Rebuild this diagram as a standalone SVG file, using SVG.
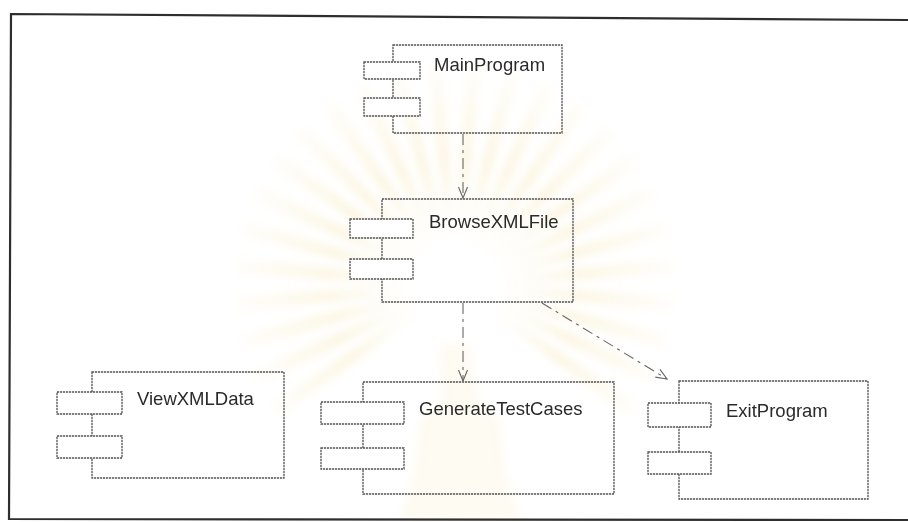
<svg xmlns="http://www.w3.org/2000/svg" xmlns:xlink="http://www.w3.org/1999/xlink" width="908" height="522" viewBox="0 0 908 522">
  <defs>
    <style>
      .frame { fill: none; stroke: #2e2e2e; stroke-width: 2.2; }
      .box { fill: #ffffff; stroke: #555555; stroke-width: 1.3; stroke-dasharray: 2.2 0.8; }
      .body { fill: none; stroke: #555555; stroke-width: 1.3; stroke-dasharray: 2.2 0.8; }
      .label { font-family: "Liberation Sans", Arial, sans-serif; font-size: 18.5px; fill: #2a2a2a; }
      .dep { fill: none; stroke: #666666; stroke-width: 1.1; stroke-dasharray: 11 5 3 5; }
      .head { fill: none; stroke: #666666; stroke-width: 1.1; }
    </style>
    <marker id="open-arrow" markerUnits="userSpaceOnUse" markerWidth="14" markerHeight="12" viewBox="-12 -6 14 12" refX="0" refY="0" orient="auto">
      <path class="head" d="M -11 -4.5 L 0 0 L -11 4.5"/>
    </marker>
    <linearGradient id="ray-fill" x1="0" y1="1" x2="0" y2="0">
      <stop offset="0" stop-color="#f6e7b4" stop-opacity="0.1"/>
      <stop offset="0.45" stop-color="#f3d98c" stop-opacity="0.7"/>
      <stop offset="1" stop-color="#f5e2a6" stop-opacity="0.15"/>
    </linearGradient>
    <radialGradient id="glow" cx="0.5" cy="0.5" r="0.5">
      <stop offset="0" stop-color="#ffffff" stop-opacity="1"/>
      <stop offset="0.7" stop-color="#ffffff" stop-opacity="0.9"/>
      <stop offset="1" stop-color="#ffffff" stop-opacity="0"/>
    </radialGradient>
    <filter id="soft" x="-20%" y="-20%" width="140%" height="140%">
      <feGaussianBlur stdDeviation="4"/>
    </filter>
    <path id="ray" d="M -3 -45 L -8 -220 L 8 -220 L 3 -45 Z" fill="url(#ray-fill)"/>
  </defs>

  <rect width="908" height="522" fill="#ffffff"/>

  <!-- faint emblem printed behind the drawing -->
  <g id="watermark" opacity="0.38" filter="url(#soft)">
    <g transform="translate(455 285)">
      <use xlink:href="#ray" transform="rotate(-125)"/>
      <use xlink:href="#ray" transform="rotate(-115)"/>
      <use xlink:href="#ray" transform="rotate(-105)"/>
      <use xlink:href="#ray" transform="rotate(-95)"/>
      <use xlink:href="#ray" transform="rotate(-85)"/>
      <use xlink:href="#ray" transform="rotate(-75)"/>
      <use xlink:href="#ray" transform="rotate(-65)"/>
      <use xlink:href="#ray" transform="rotate(-55)"/>
      <use xlink:href="#ray" transform="rotate(-45)"/>
      <use xlink:href="#ray" transform="rotate(-35)"/>
      <use xlink:href="#ray" transform="rotate(-25)"/>
      <use xlink:href="#ray" transform="rotate(-15)"/>
      <use xlink:href="#ray" transform="rotate(-5)"/>
      <use xlink:href="#ray" transform="rotate(5)"/>
      <use xlink:href="#ray" transform="rotate(15)"/>
      <use xlink:href="#ray" transform="rotate(25)"/>
      <use xlink:href="#ray" transform="rotate(35)"/>
      <use xlink:href="#ray" transform="rotate(45)"/>
      <use xlink:href="#ray" transform="rotate(55)"/>
      <use xlink:href="#ray" transform="rotate(65)"/>
      <use xlink:href="#ray" transform="rotate(75)"/>
      <use xlink:href="#ray" transform="rotate(85)"/>
      <use xlink:href="#ray" transform="rotate(95)"/>
      <use xlink:href="#ray" transform="rotate(105)"/>
      <use xlink:href="#ray" transform="rotate(115)"/>
      <use xlink:href="#ray" transform="rotate(125)"/>
      <circle r="55" fill="url(#glow)"/>
    </g>
    <path d="M 440 345 L 470 345 L 478 400 L 500 420 L 505 470 L 520 520 L 400 520 L 415 470 L 420 420 L 442 400 Z" fill="#f4dc98" opacity="0.35"/>
  </g>

  <!-- page frame -->
  <polyline class="frame" points="908,20 11,14 9,519 908,520"/>

  <!-- dependency connectors -->
  <g id="connectors">
    <path class="dep" d="M 463 134 L 463 198" marker-end="url(#open-arrow)"/>
    <path class="dep" d="M 463 303 L 463 381" marker-end="url(#open-arrow)"/>
    <path class="dep" d="M 542 303 L 667 379" marker-end="url(#open-arrow)"/>
  </g>

  <g id="MainProgram">
    <rect class="body" x="393" y="45" width="169" height="88"/>
    <rect class="box" x="364" y="62" width="56" height="17"/>
    <rect class="box" x="364" y="98" width="56" height="18"/>
    <text class="label" x="434" y="71">MainProgram</text>
  </g>

  <g id="BrowseXMLFile">
    <rect class="body" x="382" y="199" width="191" height="103"/>
    <rect class="box" x="350" y="219" width="63" height="19"/>
    <rect class="box" x="350" y="259" width="63" height="20"/>
    <text class="label" x="429" y="228">BrowseXMLFile</text>
  </g>

  <g id="ViewXMLData">
    <rect class="body" x="92" y="372" width="192" height="106"/>
    <rect class="box" x="57" y="392" width="65" height="22"/>
    <rect class="box" x="57" y="436" width="65" height="22"/>
    <text class="label" x="137" y="405">ViewXMLData</text>
  </g>

  <g id="GenerateTestCases">
    <rect class="body" x="363" y="382" width="251" height="112"/>
    <rect class="box" x="321" y="402" width="83" height="22"/>
    <rect class="box" x="321" y="448" width="83" height="21"/>
    <text class="label" x="419" y="415">GenerateTestCases</text>
  </g>

  <g id="ExitProgram">
    <rect class="body" x="679" y="381" width="189" height="118"/>
    <rect class="box" x="648" y="403" width="63" height="24"/>
    <rect class="box" x="648" y="452" width="63" height="22"/>
    <text class="label" x="726" y="417">ExitProgram</text>
  </g>
</svg>
